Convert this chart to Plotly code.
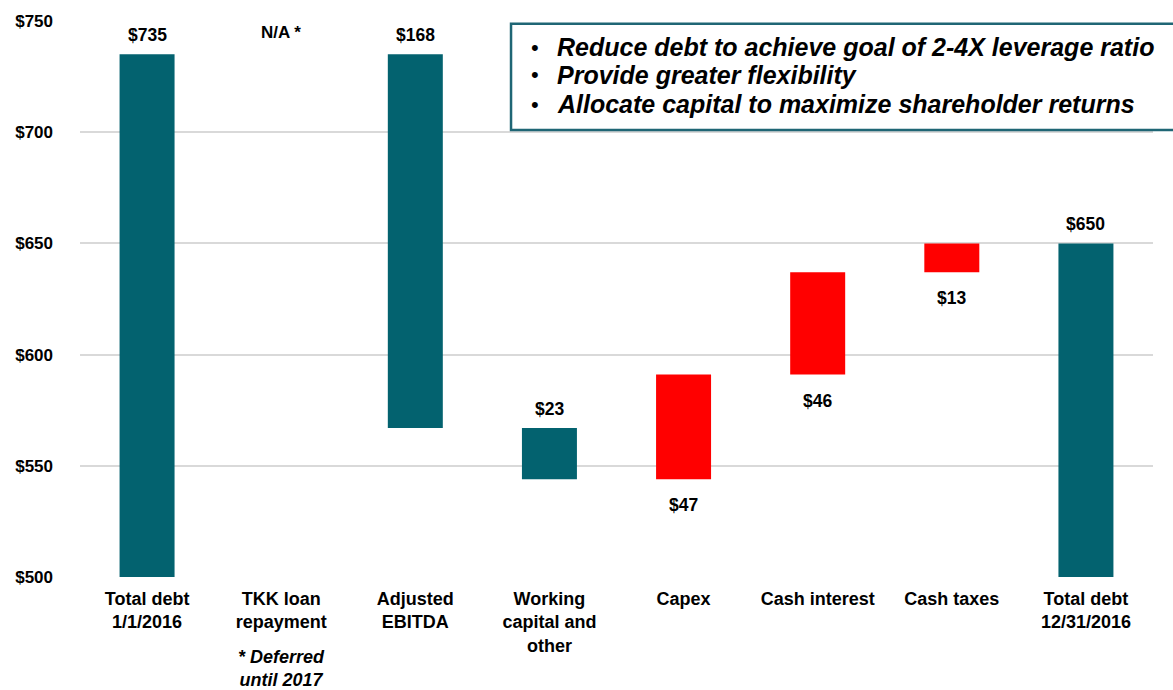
import plotly.graph_objects as go

categories = ["Total debt<br>1/1/2016", "TKK loan<br>repayment", "Adjusted<br>EBITDA",
              "Working<br>capital and<br>other", "Capex", "Cash interest", "Cash taxes",
              "Total debt<br>12/31/2016"]
measures = ["absolute", "relative", "relative", "relative", "relative", "relative", "relative", "total"]
changes = [735, 0, -168, -23, 47, 46, 13, 0]
value_labels = ["$735", "N/A *", "$168", "$23", "$47", "$46", "$13", "$650"]
tick_vals = [500, 550, 600, 650, 700, 750]
tick_text = ["$500", "$550", "$600", "$650", "$700", "$750"]
bullets = ["Reduce debt to achieve goal of 2-4X leverage ratio",
           "Provide greater flexibility",
           "Allocate capital to maximize shareholder returns"]
footnote = "* Deferred<br>until 2017"

TEAL = "#03626f"
RED = "#ff0000"
FONT = "Liberation Sans, Arial, sans-serif"

fig = go.Figure(go.Waterfall(
    x=categories, y=changes, measure=measures,
    decreasing=dict(marker=dict(color=TEAL)),
    increasing=dict(marker=dict(color=RED)),
    totals=dict(marker=dict(color=TEAL)),
    connector=dict(visible=False),
    width=0.41,
    hoverinfo="skip",
))

# label positions from running totals
running = 0
for cat, m, c, lab in zip(categories, measures, changes, value_labels):
    if m == "absolute":
        start, end = 0, c
        running = c
    elif m == "total":
        start, end = 0, running
    else:
        start, end = running, running + c
        running += c
    if lab.startswith("N/A"):
        fig.add_annotation(x=cat, y=750, text="<b>" + lab + "</b>", showarrow=False,
                           yanchor="top", yshift=0, font=dict(size=17, color="black", family=FONT))
        continue
    if m in ("absolute", "total") or c < 0:
        y, anchor, shift = max(start, end), "bottom", 7
    else:
        y, anchor, shift = min(start, end), "top", -14
    fig.add_annotation(x=cat, y=y, text="<b>" + lab + "</b>", showarrow=False,
                       yanchor=anchor, yshift=shift, font=dict(size=17.5, color="black", family=FONT))

# footnote under TKK
fig.add_annotation(x=categories[1], y=0, yref="paper", text="<b><i>" + footnote + "</i></b>",
                   showarrow=False, yanchor="top", yshift=-68, align="center",
                   font=dict(size=18, color="black", family=FONT))

# bullet box
fig.add_shape(type="rect", xref="paper", yref="paper", x0=0.4017, x1=1.02, y0=0.804, y1=0.995,
              line=dict(color="#1f6675", width=2.5), fillcolor="white", layer="above")
line_y = [0.953, 0.903, 0.850]
for b, ly in zip(bullets, line_y):
    fig.add_annotation(xref="paper", yref="paper", x=0.4185, y=ly, text="•",
                       showarrow=False, xanchor="left", yanchor="middle",
                       font=dict(size=22, color="black", family=FONT))
    fig.add_annotation(xref="paper", yref="paper", x=0.4425, y=ly, text="<b><i>" + b + "</i></b>",
                       showarrow=False, xanchor="left", yanchor="middle",
                       font=dict(size=25, color="black", family=FONT))

fig.update_layout(
    width=1173, height=690,
    margin=dict(l=80, r=20, t=18, b=113),
    paper_bgcolor="white", plot_bgcolor="white",
    showlegend=False,
    font=dict(family=FONT, color="black"),
    xaxis=dict(tickfont=dict(size=18, family=FONT, color="black"), showgrid=False,
               showline=False, ticks="", ticklabelstandoff=9),
    yaxis=dict(range=[500, 750], tickvals=tick_vals,
               ticktext=["<b>" + t + "</b>" for t in tick_text],
               tickfont=dict(size=17, family=FONT, color="black"),
               showgrid=True, gridcolor="#d9d9d9", gridwidth=1.5, zeroline=False,
               showline=False, ticks="", ticklabelstandoff=26),
)
fig.update_xaxes(tickvals=categories, ticktext=["<b>" + c + "</b>" for c in categories])

fig.write_html("out.html")
